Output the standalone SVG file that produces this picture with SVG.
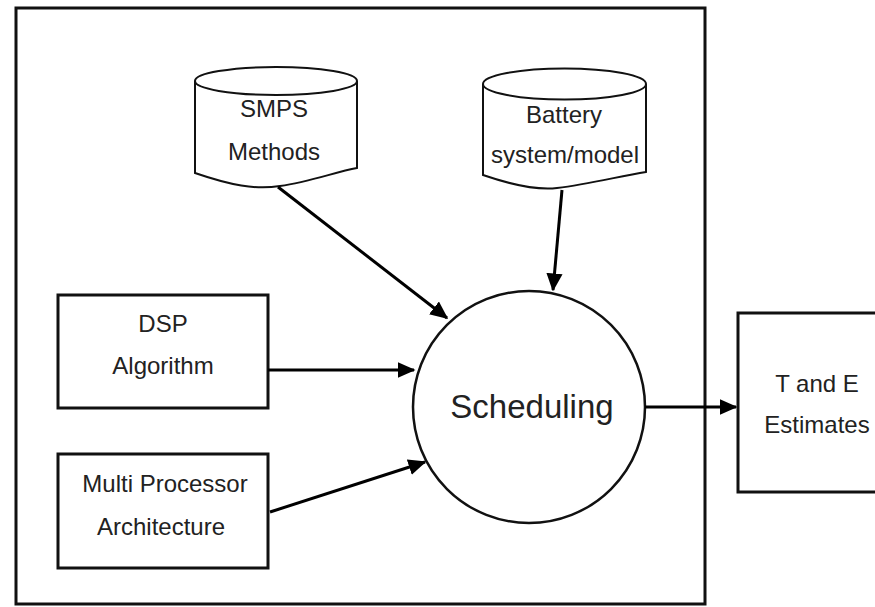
<svg xmlns="http://www.w3.org/2000/svg" width="875" height="607" viewBox="0 0 875 607">
<defs>
<style>
.box{fill:#fff;stroke:#111;stroke-width:3}
.cyl{fill:#fff;stroke:#111;stroke-width:2}
.t{font-family:"Liberation Sans",Arial,sans-serif;font-size:24px;fill:#222;text-anchor:middle}
.big{font-size:33px}
.c{stroke:#000;stroke-width:3;fill:none;marker-end:url(#ah)}
</style>
<marker id="ah" markerWidth="6" markerHeight="5.4" refX="5.5" refY="2.7" orient="auto" markerUnits="strokeWidth">
<path d="M0,0 L6,2.7 L0,5.4 Z" fill="#000"/>
</marker>
</defs>
<rect width="875" height="607" fill="#fff"/>
<rect id="frame" x="16" y="8" width="689" height="596" fill="none" stroke="#111" stroke-width="3"/>
<g id="smps">
<path class="cyl" d="M195,81 V173 C230,185 255,190 280,186 C310,182 335,172 357,168 V81"/>
<ellipse class="cyl" cx="276" cy="81" rx="81" ry="14"/>
<text class="t" x="274" y="117">SMPS</text>
<text class="t" x="274" y="160">Methods</text>
</g>
<g id="battery">
<path class="cyl" d="M483,84 V175 C515,186 540,190 557,188 C590,184 620,176 646,172 V84"/>
<ellipse class="cyl" cx="564.5" cy="84" rx="81.5" ry="15.5"/>
<text class="t" x="564" y="123">Battery</text>
<text class="t" x="565" y="163">system/model</text>
</g>
<g id="dsp">
<rect class="box" x="58" y="295" width="210" height="113"/>
<text class="t" x="163" y="332">DSP</text>
<text class="t" x="163" y="374">Algorithm</text>
</g>
<g id="multi">
<rect class="box" x="58" y="454" width="210" height="114"/>
<text class="t" x="165" y="492">Multi Processor</text>
<text class="t" x="161" y="535">Architecture</text>
</g>
<g id="scheduling">
<circle cx="529" cy="407" r="116" fill="#fff" stroke="#111" stroke-width="2.5"/>
<text class="t big" x="532" y="418">Scheduling</text>
</g>
<g id="estimates">
<rect class="box" x="738" y="313" width="145" height="179"/>
<text class="t" x="817" y="392">T and E</text>
<text class="t" x="817" y="433">Estimates</text>
</g>
<g id="connectors">
<line class="c" x1="278" y1="187" x2="447" y2="318"/>
<line class="c" x1="562" y1="190" x2="553" y2="290"/>
<line class="c" x1="268" y1="370" x2="414" y2="370"/>
<line class="c" x1="270" y1="512" x2="425" y2="462"/>
<line class="c" x1="645" y1="407" x2="736" y2="407"/>
</g>
</svg>
